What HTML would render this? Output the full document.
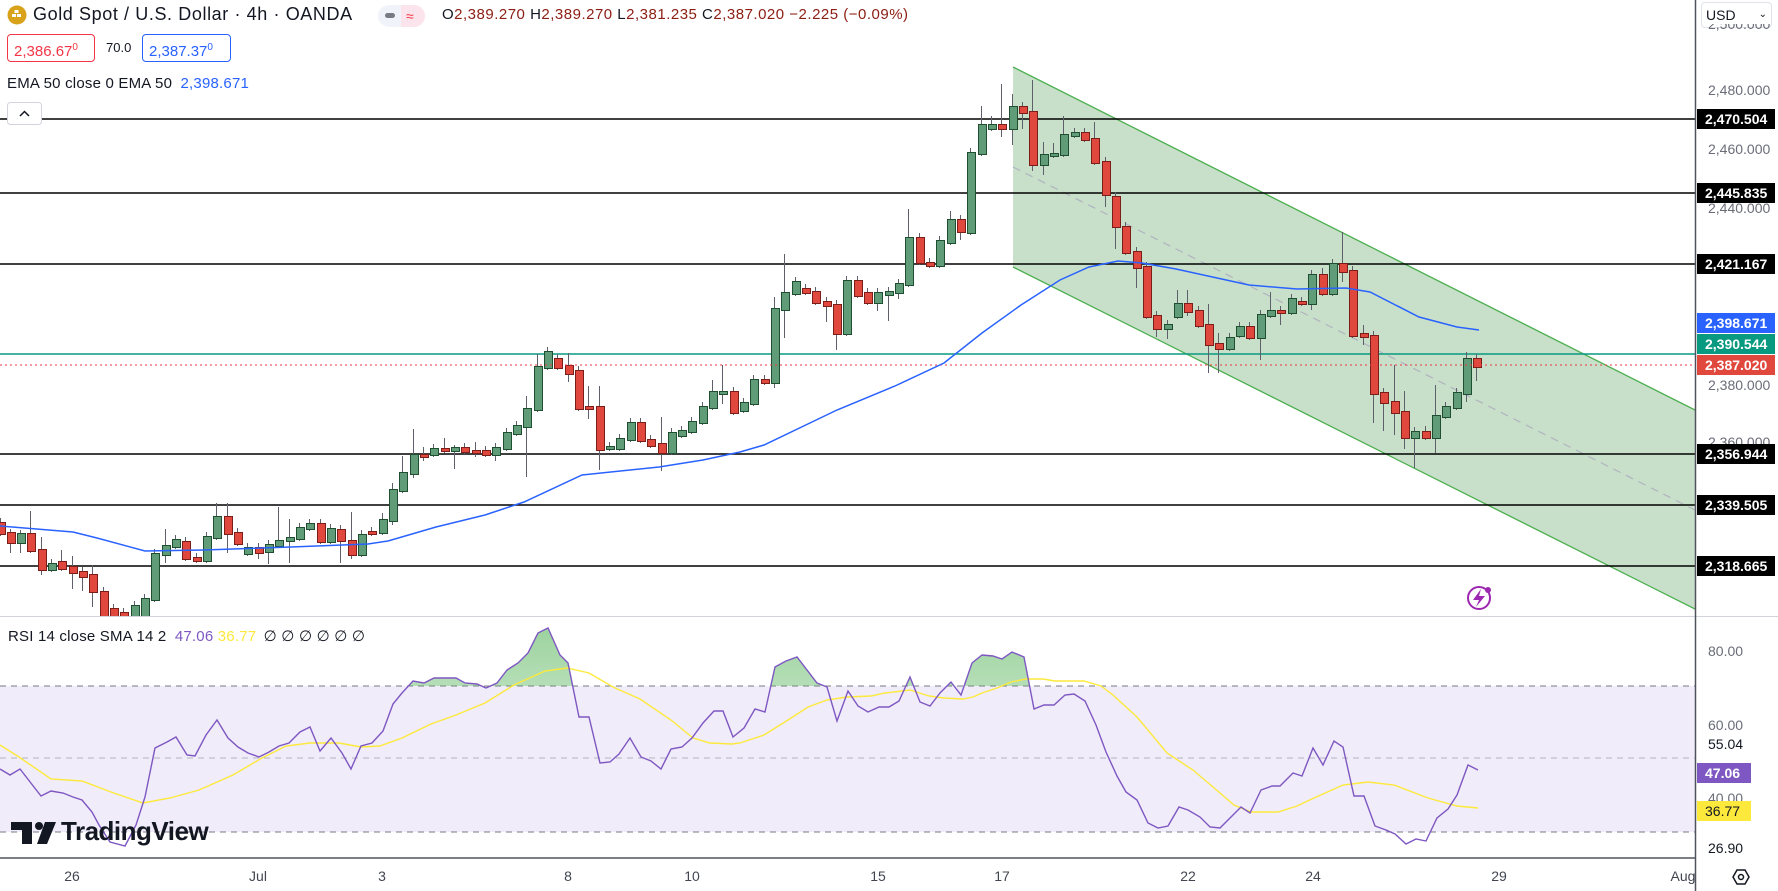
<!DOCTYPE html>
<html><head><meta charset="utf-8">
<style>
*{margin:0;padding:0;box-sizing:border-box}
body{width:1778px;height:891px;background:#fff;position:relative;overflow:hidden;font-family:"Liberation Sans",sans-serif;color:#131722}
svg{position:absolute;left:0;top:0}
#cw{position:absolute;left:0;top:0;width:1695px;height:616px;overflow:hidden}
#cs{position:absolute;left:-5.17px;top:0;display:flex;height:616px}
.c{position:relative;width:10.34px;flex:none;height:616px}
.c::before{content:"";position:absolute;left:4.67px;width:1px;background:#5d606b;top:calc((var(--a) - var(--u,4))*1px);height:calc((var(--b) - var(--a) + var(--u,4) + var(--d,4))*1px)}
.c::after{content:"";position:absolute;left:1.67px;width:7px;top:calc(var(--a)*1px);height:calc((var(--b) - var(--a))*1px + 1px);border:1px solid}
.g::after{background:#5f9c77;border-color:#1f4f30}
.r::after{background:#e0473d;border-color:#7b1e1a}
.t{position:absolute;white-space:nowrap}
.pl{position:absolute;left:1697px;width:78px;height:20px;font-size:14px;line-height:20px;padding-left:8px;color:#fff;font-weight:bold}
.gl{position:absolute;left:1708px;font-size:14px;color:#6a6d78;line-height:16px}
.tl{position:absolute;top:868px;font-size:14px;color:#434651;transform:translateX(-50%)}
</style></head><body>

<svg width="1778" height="891">
 <defs>
  <clipPath id="mp"><rect x="0" y="0" width="1695" height="616"/></clipPath>
  <clipPath id="ob"><rect x="0" y="616" width="1695" height="70"/></clipPath>
  <linearGradient id="gg" x1="0" y1="0" x2="0" y2="1"><stop offset="0" stop-color="#4caf50" stop-opacity="0.55"/><stop offset="1" stop-color="#4caf50" stop-opacity="0.03"/></linearGradient>
 </defs>
 <g clip-path="url(#mp)">
  <polygon points="1013,67 1697,411 1697,610 1013,267" fill="#c8e0c9"/>
  <line x1="1013" y1="67" x2="1697" y2="411" stroke="#4caf50" stroke-width="1.3"/>
  <line x1="1013" y1="267" x2="1697" y2="610" stroke="#4caf50" stroke-width="1.3"/>
  <line x1="1013" y1="167" x2="1697" y2="511" stroke="#b0b3c0" stroke-width="1.2" stroke-dasharray="8,6"/>
  <g stroke="#000" stroke-width="1.4">
   <line x1="0" y1="119" x2="1695" y2="119"/><line x1="0" y1="193" x2="1695" y2="193"/>
   <line x1="0" y1="264" x2="1695" y2="264"/><line x1="0" y1="454" x2="1695" y2="454"/>
   <line x1="0" y1="505" x2="1695" y2="505"/><line x1="0" y1="566" x2="1695" y2="566"/>
  </g>
  <line x1="0" y1="354" x2="1695" y2="354" stroke="#089981" stroke-width="1.5"/>
 </g>
 <rect x="0" y="686" width="1695" height="146" fill="#f0ecf9"/>
 <g stroke="#787b86" stroke-width="1" stroke-dasharray="6,5">
  <line x1="0" y1="686" x2="1695" y2="686"/><line x1="0" y1="758" x2="1695" y2="758" stroke="#b2b5be"/><line x1="0" y1="832" x2="1695" y2="832"/>
 </g>
 <line x1="0" y1="616.5" x2="1778" y2="616.5" stroke="#d1d4dc"/>
 <line x1="0" y1="858" x2="1695" y2="858" stroke="#50535e" stroke-width="1.5"/>
 <line x1="1695.5" y1="0" x2="1695.5" y2="891" stroke="#50535e" stroke-width="1.5"/>
</svg>

<div id="cw"><div id="cs">
<b class="c r" style="--a:522;--b:532"></b>
<b class="c r" style="--a:532;--b:541;--u:3;--d:12"></b>
<b class="c g" style="--a:533;--b:541;--u:3;--d:12"></b>
<b class="c r" style="--a:533;--b:549;--u:22"></b>
<b class="c r" style="--a:549;--b:568;--u:12;--d:7"></b>
<b class="c g" style="--a:563;--b:568"></b>
<b class="c r" style="--a:561;--b:567;--u:11"></b>
<b class="c r" style="--a:566;--b:571;--u:10;--d:18"></b>
<b class="c r" style="--a:571;--b:575;--d:16"></b>
<b class="c r" style="--a:574;--b:590;--u:9;--d:17"></b>
<b class="c r" style="--a:591;--b:615"></b>
<b class="c r" style="--a:608;--b:625"></b>
<b class="c r" style="--a:612;--b:630"></b>
<b class="c g" style="--a:605;--b:630"></b>
<b class="c g" style="--a:598;--b:615"></b>
<b class="c g" style="--a:553;--b:598"></b>
<b class="c g" style="--a:545;--b:553;--u:16;--d:10"></b>
<b class="c g" style="--a:539;--b:545"></b>
<b class="c r" style="--a:541;--b:557"></b>
<b class="c r" style="--a:557;--b:559"></b>
<b class="c g" style="--a:536;--b:559"></b>
<b class="c g" style="--a:516;--b:536;--u:13"></b>
<b class="c r" style="--a:516;--b:532;--u:13;--d:21"></b>
<b class="c r" style="--a:532;--b:542"></b>
<b class="c g" style="--a:547;--b:552"></b>
<b class="c r" style="--a:547;--b:551;--d:8"></b>
<b class="c g" style="--a:544;--b:550;--d:14"></b>
<b class="c g" style="--a:540;--b:544;--u:33"></b>
<b class="c g" style="--a:537;--b:539;--u:18;--d:24"></b>
<b class="c g" style="--a:527;--b:537"></b>
<b class="c g" style="--a:523;--b:527"></b>
<b class="c r" style="--a:523;--b:540"></b>
<b class="c g" style="--a:528;--b:540"></b>
<b class="c r" style="--a:529;--b:539;--d:24"></b>
<b class="c r" style="--a:540;--b:553;--u:28;--d:6"></b>
<b class="c g" style="--a:534;--b:553"></b>
<b class="c r" style="--a:531;--b:532"></b>
<b class="c g" style="--a:519;--b:531;--u:6"></b>
<b class="c g" style="--a:489;--b:519;--u:6;--d:6"></b>
<b class="c g" style="--a:472;--b:489;--u:16"></b>
<b class="c g" style="--a:454;--b:472;--u:25;--d:6"></b>
<b class="c r" style="--a:454;--b:455;--u:7;--d:6"></b>
<b class="c g" style="--a:448;--b:453"></b>
<b class="c r" style="--a:448;--b:449;--u:10"></b>
<b class="c g" style="--a:447;--b:449;--u:2;--d:20"></b>
<b class="c r" style="--a:447;--b:450"></b>
<b class="c r" style="--a:450;--b:451;--u:8;--d:6"></b>
<b class="c r" style="--a:450;--b:453"></b>
<b class="c g" style="--a:447;--b:453;--d:8"></b>
<b class="c g" style="--a:432;--b:447"></b>
<b class="c g" style="--a:425;--b:432"></b>
<b class="c g" style="--a:408;--b:425;--u:12;--d:52"></b>
<b class="c g" style="--a:366;--b:408;--u:12"></b>
<b class="c g" style="--a:351;--b:366"></b>
<b class="c r" style="--a:358;--b:366"></b>
<b class="c r" style="--a:365;--b:372;--u:12;--d:10"></b>
<b class="c r" style="--a:370;--b:407"></b>
<b class="c r" style="--a:406;--b:407;--u:20;--d:12"></b>
<b class="c r" style="--a:406;--b:448;--u:20;--d:22"></b>
<b class="c g" style="--a:446;--b:447"></b>
<b class="c g" style="--a:438;--b:447"></b>
<b class="c g" style="--a:422;--b:438"></b>
<b class="c r" style="--a:422;--b:439"></b>
<b class="c r" style="--a:439;--b:444"></b>
<b class="c r" style="--a:443;--b:451;--u:26;--d:20"></b>
<b class="c g" style="--a:432;--b:451"></b>
<b class="c g" style="--a:430;--b:434"></b>
<b class="c g" style="--a:421;--b:430"></b>
<b class="c g" style="--a:406;--b:421"></b>
<b class="c g" style="--a:391;--b:406;--u:11"></b>
<b class="c g" style="--a:391;--b:392;--u:26;--d:12"></b>
<b class="c r" style="--a:391;--b:411"></b>
<b class="c g" style="--a:402;--b:409"></b>
<b class="c g" style="--a:379;--b:402"></b>
<b class="c r" style="--a:379;--b:381"></b>
<b class="c g" style="--a:308;--b:381;--u:11;--d:7"></b>
<b class="c g" style="--a:292;--b:308;--u:38;--d:30"></b>
<b class="c g" style="--a:281;--b:292"></b>
<b class="c r" style="--a:288;--b:291"></b>
<b class="c r" style="--a:291;--b:301"></b>
<b class="c r" style="--a:301;--b:304;--d:18"></b>
<b class="c r" style="--a:304;--b:332;--d:18"></b>
<b class="c g" style="--a:280;--b:332"></b>
<b class="c r" style="--a:280;--b:294"></b>
<b class="c r" style="--a:292;--b:301"></b>
<b class="c g" style="--a:292;--b:301;--d:10"></b>
<b class="c g" style="--a:291;--b:293;--d:28"></b>
<b class="c g" style="--a:283;--b:291;--d:8"></b>
<b class="c g" style="--a:237;--b:283;--u:28"></b>
<b class="c r" style="--a:237;--b:261"></b>
<b class="c r" style="--a:262;--b:264"></b>
<b class="c g" style="--a:240;--b:264"></b>
<b class="c g" style="--a:219;--b:241;--u:8"></b>
<b class="c r" style="--a:219;--b:230;--d:10"></b>
<b class="c g" style="--a:152;--b:231"></b>
<b class="c g" style="--a:124;--b:152;--u:18"></b>
<b class="c g" style="--a:124;--b:127;--u:8"></b>
<b class="c r" style="--a:124;--b:127;--u:40;--d:10"></b>
<b class="c g" style="--a:106;--b:127;--u:12;--d:18"></b>
<b class="c r" style="--a:106;--b:111;--d:18"></b>
<b class="c r" style="--a:111;--b:163;--u:31;--d:8"></b>
<b class="c g" style="--a:154;--b:163;--u:12;--d:12"></b>
<b class="c g" style="--a:153;--b:154;--u:10"></b>
<b class="c g" style="--a:134;--b:153;--u:18"></b>
<b class="c g" style="--a:132;--b:134"></b>
<b class="c r" style="--a:132;--b:138"></b>
<b class="c r" style="--a:138;--b:161;--u:16"></b>
<b class="c r" style="--a:161;--b:193;--d:14"></b>
<b class="c r" style="--a:196;--b:225;--d:24"></b>
<b class="c r" style="--a:226;--b:251"></b>
<b class="c r" style="--a:251;--b:266;--d:22"></b>
<b class="c r" style="--a:266;--b:315"></b>
<b class="c r" style="--a:315;--b:327;--d:10"></b>
<b class="c g" style="--a:324;--b:327;--d:12"></b>
<b class="c g" style="--a:303;--b:315;--u:13"></b>
<b class="c r" style="--a:303;--b:310;--u:13;--d:6"></b>
<b class="c r" style="--a:310;--b:324"></b>
<b class="c r" style="--a:324;--b:343;--u:20;--d:30"></b>
<b class="c r" style="--a:343;--b:347;--u:10;--d:26"></b>
<b class="c g" style="--a:337;--b:347"></b>
<b class="c g" style="--a:326;--b:334"></b>
<b class="c r" style="--a:326;--b:336"></b>
<b class="c g" style="--a:314;--b:336;--d:24"></b>
<b class="c g" style="--a:310;--b:314;--u:18"></b>
<b class="c r" style="--a:310;--b:311;--d:14"></b>
<b class="c g" style="--a:298;--b:311"></b>
<b class="c r" style="--a:301;--b:302"></b>
<b class="c g" style="--a:274;--b:302;--d:8"></b>
<b class="c r" style="--a:274;--b:292;--u:6"></b>
<b class="c g" style="--a:263;--b:292"></b>
<b class="c r" style="--a:263;--b:270;--u:31;--d:12"></b>
<b class="c r" style="--a:270;--b:334"></b>
<b class="c r" style="--a:333;--b:335;--u:8;--d:10"></b>
<b class="c r" style="--a:335;--b:392;--d:31"></b>
<b class="c r" style="--a:392;--b:401;--d:30"></b>
<b class="c r" style="--a:401;--b:411;--u:36;--d:24"></b>
<b class="c r" style="--a:411;--b:436;--u:20;--d:13"></b>
<b class="c g" style="--a:431;--b:436;--d:32"></b>
<b class="c r" style="--a:431;--b:436;--u:5"></b>
<b class="c g" style="--a:415;--b:436;--u:30;--d:17"></b>
<b class="c g" style="--a:406;--b:415"></b>
<b class="c g" style="--a:392;--b:406"></b>
<b class="c g" style="--a:358;--b:392;--u:6;--d:10"></b>
<b class="c r" style="--a:358;--b:365;--d:16"></b>
</div></div>

<svg width="1778" height="891">
 <line x1="0" y1="365" x2="1695" y2="365" stroke="#f23645" stroke-width="1" stroke-dasharray="2,3"/>
 <polyline fill="none" stroke="#2962ff" stroke-width="1.5" points="0,526 73,532 97,538 145,551 204,550 291,547 368,544 388,541 436,527 485,515 524,502 582,475 659,467 703,460 740,452 764,445 837,410 895,386 944,363 982,333 1021,305 1060,280 1089,267 1118,261 1142,263 1176,269 1249,285 1297,289 1346,288 1370,292 1419,317 1457,327 1479,330"/>
 <polygon clip-path="url(#ob)" fill="url(#gg)" points="0,686 0,769 10,775 20,769 41,796 51,791 63,793 73,797 82,800 92,812 99,825 110,842 125,846 136,825 145,797 155,748 167,742 176,737 187,755 195,756 206,735 217,720 228,738 238,747 248,753 259,757 269,752 279,746 289,743 300,732 310,727 320,751 331,738 342,753 351,769 361,746 372,743 383,731 393,704 402,693 413,681 424,683 434,678 456,678 465,683 477,684 486,688 497,683 507,670 518,663 528,653 538,633 548,628 560,655 568,663 579,717 589,717 600,763 610,762 619,754 630,738 641,757 651,761 661,769 671,749 682,747 692,738 703,723 714,711 723,711 733,737 744,728 755,709 765,712 775,667 786,661 797,657 817,683 827,687 837,721 848,691 858,706 868,712 879,707 889,707 899,701 910,677 920,702 930,706 940,693 951,682 961,695 972,663 982,655 993,656 1002,659 1012,652 1024,657 1034,709 1478,709 1478,686"/>
 <polyline fill="none" stroke="#fde93b" stroke-width="1.4" points="0,745 19,757 51,779 82,781 111,792 143,803 170,798 199,790 233,775 262,758 286,746 310,743 339,743 361,747 380,746 402,738 431,724 456,715 485,703 514,685 545,671 567,668 589,673 613,687 640,699 671,720 693,738 710,743 732,744 740,743 764,735 788,720 808,707 827,700 847,697 871,696 885,693 910,690 929,696 944,698 963,699 973,697 982,693 997,688 1011,682 1026,679 1043,679 1055,681 1084,681 1101,686 1113,695 1137,717 1167,753 1193,770 1220,793 1234,805 1251,812 1278,812 1297,806 1314,798 1343,785 1368,782 1394,785 1428,798 1457,806 1467,807 1478,808"/>
 <polyline fill="none" stroke="#7e57c2" stroke-width="1.4" points="0,769 10,775 20,769 41,796 51,791 63,793 73,797 82,800 92,812 99,825 110,842 125,846 136,825 145,797 155,748 167,742 176,737 187,755 195,756 206,735 217,720 228,738 238,747 248,753 259,757 269,752 279,746 289,743 300,732 310,727 320,751 331,738 342,753 351,769 361,746 372,743 383,731 393,704 402,693 413,681 424,683 434,678 456,678 465,683 477,684 486,688 497,683 507,670 518,663 528,653 538,633 548,628 560,655 568,663 579,717 589,717 600,763 610,762 619,754 630,738 641,757 651,761 661,769 671,749 682,747 692,738 703,723 714,711 723,711 733,737 744,728 755,709 765,712 775,667 786,661 797,657 817,683 827,687 837,721 848,691 858,706 868,712 879,707 889,707 899,701 910,677 920,702 930,706 940,693 951,682 961,695 972,663 982,655 993,656 1002,659 1012,652 1024,657 1034,709 1044,705 1054,705 1065,695 1074,694 1085,701 1096,725 1106,752 1117,776 1126,792 1137,800 1148,823 1158,828 1168,826 1179,807 1188,810 1200,817 1210,827 1220,828 1231,817 1241,807 1250,813 1261,790 1272,786 1280,786 1293,773 1302,776 1313,748 1323,765 1334,741 1343,747 1354,796 1364,796 1375,826 1386,830 1395,834 1406,844 1416,839 1426,841 1437,818 1448,809 1457,795 1468,765 1478,770"/>
 <circle cx="17" cy="15" r="9.5" fill="#d9a21b"/>
 <rect x="12" y="14" width="4" height="3" fill="#fff"/><rect x="17" y="14" width="4" height="3" fill="#fff"/><rect x="14.5" y="10" width="4" height="3" fill="#fff"/>
 <rect x="378" y="5" width="47" height="22" rx="11" fill="#f0f3fa"/>
 <path d="M401 5 H414 A11 11 0 0 1 414 27 H401 Z" fill="#fce4ec"/>
 <rect x="385" y="13" width="10" height="5" rx="2.5" fill="#787b86"/>
 <text x="406" y="21" font-size="14" fill="#f23645" font-family="Liberation Sans">≈</text>
 <circle cx="1479" cy="598" r="11" fill="none" stroke="#9c27b0" stroke-width="2"/>
 <path d="M1481 589 L1473 600 L1479 600 L1476 607 L1485 596 L1479 596 Z" fill="#9c27b0"/>
 <circle cx="1488" cy="590" r="3" fill="#9c27b0"/>
 <path d="M11 822 H32 V844 H22 V830 H11 Z" fill="#131722"/>
 <circle cx="39" cy="826" r="4" fill="#131722"/>
 <path d="M45 822 H56 L47 844 H37 Z" fill="#131722"/>
 <path d="M1733 877 L1737 870 H1745 L1749 877 L1745 884 H1737 Z" fill="none" stroke="#131722" stroke-width="1.5"/>
 <circle cx="1741" cy="877" r="2.5" fill="none" stroke="#131722" stroke-width="1.5"/>
 <rect x="7.5" y="102.5" width="34" height="22" rx="3" fill="#fff" stroke="#d1d4dc"/>
 <path d="M20 116 L24.5 111.5 L29 116" fill="none" stroke="#131722" stroke-width="1.5"/>
</svg>

<div class="t" style="left:33px;top:4px;font-size:18px;letter-spacing:0.6px;color:#131722">Gold Spot / U.S. Dollar · 4h · OANDA</div>
<div class="t" style="left:442px;top:6px;font-size:15px;letter-spacing:0.5px;color:#131722">O<span style="color:#8c1d13">2,389.270</span> H<span style="color:#8c1d13">2,389.270</span> L<span style="color:#8c1d13">2,381.235</span> C<span style="color:#8c1d13">2,387.020</span> <span style="color:#8c1d13">−2.225 (−0.09%)</span></div>
<div class="t" style="left:7px;top:34px;width:88px;height:28px;border:1px solid #f23645;border-radius:4px;color:#f23645;font-size:15px;line-height:26px;padding-left:6px">2,386.67<sup style="font-size:10px">0</sup></div>
<div class="t" style="left:106px;top:40px;font-size:13px;color:#131722">70.0</div>
<div class="t" style="left:142px;top:34px;width:89px;height:28px;border:1px solid #2962ff;border-radius:4px;color:#2962ff;font-size:15px;line-height:26px;padding-left:6px">2,387.37<sup style="font-size:10px">0</sup></div>
<div class="t" style="left:7px;top:75px;font-size:15px;letter-spacing:0.2px;color:#131722">EMA 50 close 0 EMA 50 <span style="color:#2962ff;margin-left:4px">2,398.671</span></div>
<div class="t" style="left:8px;top:627px;font-size:15px;letter-spacing:0.2px;color:#131722">RSI 14 close SMA 14 2 <span style="color:#7e57c2;margin-left:4px">47.06</span> <span style="color:#fde93b">36.77</span> <span style="margin-left:3px">∅ ∅ ∅ ∅ ∅ ∅</span></div>
<div class="t" style="left:61px;top:816px;font-size:26px;font-weight:bold;color:#131722;letter-spacing:-0.5px">TradingView</div>

<div class="t" style="left:1701px;top:2px;width:71px;height:26px;border:1px solid #e0e3eb;border-radius:4px;font-size:14px;line-height:24px;padding-left:4px;color:#131722">USD <span style="float:right;margin-right:4px;font-size:10px">⌄</span></div>
<div class="gl" style="top:24px;height:10px;overflow:hidden;line-height:0">2,500.000</div>
<div class="gl" style="top:82px">2,480.000</div>
<div class="gl" style="top:141px">2,460.000</div>
<div class="gl" style="top:200px">2,440.000</div>
<div class="gl" style="top:377px">2,380.000</div>
<div class="gl" style="top:434px">2,360.000</div>
<div class="pl" style="top:109px;background:#000">2,470.504</div>
<div class="pl" style="top:183px;background:#000">2,445.835</div>
<div class="pl" style="top:254px;background:#000">2,421.167</div>
<div class="pl" style="top:313px;background:#2962ff">2,398.671</div>
<div class="pl" style="top:334px;background:#089981">2,390.544</div>
<div class="pl" style="top:355px;background:#e0473d">2,387.020</div>
<div class="pl" style="top:444px;background:#000">2,356.944</div>
<div class="pl" style="top:495px;background:#000">2,339.505</div>
<div class="pl" style="top:556px;background:#000">2,318.665</div>
<div class="gl" style="top:643px">80.00</div>
<div class="gl" style="top:717px">60.00</div>
<div class="gl" style="top:736px;color:#131722;background:#fff;width:60px">55.04</div>
<div class="gl" style="top:790px">40.00</div>
<div class="pl" style="top:763px;width:54px;background:#7e57c2">47.06</div>
<div class="pl" style="top:801px;width:54px;background:#fde93b;color:#131722;font-weight:normal">36.77</div>
<div class="gl" style="top:840px;color:#131722">26.90</div>

<div class="tl" style="left:72px">26</div>
<div class="tl" style="left:258px">Jul</div>
<div class="tl" style="left:382px">3</div>
<div class="tl" style="left:568px">8</div>
<div class="tl" style="left:692px">10</div>
<div class="tl" style="left:878px">15</div>
<div class="tl" style="left:1002px">17</div>
<div class="tl" style="left:1188px">22</div>
<div class="tl" style="left:1313px">24</div>
<div class="tl" style="left:1499px">29</div>
<div class="tl" style="left:1683px">Aug</div>
</body></html>
